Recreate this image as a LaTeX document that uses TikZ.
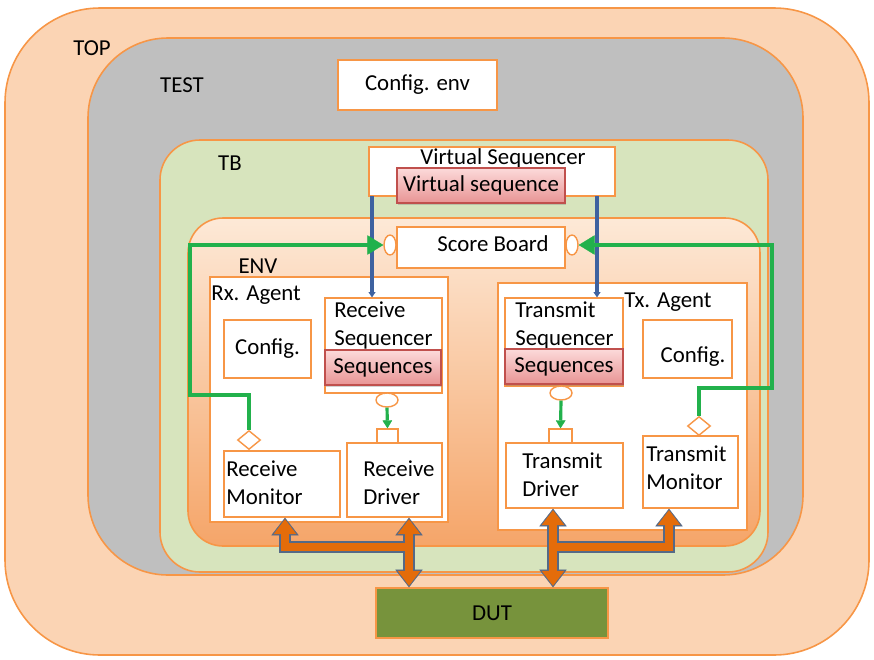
\documentclass[tikz,border=0pt]{standalone}
\usepackage{fontspec}
\setmainfont{Carlito}
\usetikzlibrary{arrows.meta,calc,positioning,shapes.geometric,shadows}
\definecolor{uvmpeach}{RGB}{251,212,180}
\definecolor{uvmorange}{RGB}{247,150,70}
\definecolor{uvmgray}{RGB}{191,191,191}
\definecolor{uvmgreen}{RGB}{215,228,189}
\definecolor{envtop}{RGB}{253,233,215}
\definecolor{envbottom}{RGB}{245,165,105}
\definecolor{seqpinktop}{RGB}{252,218,218}
\definecolor{seqpinkbot}{RGB}{232,148,148}
\definecolor{seqred}{RGB}{192,80,77}
\definecolor{dutgreen}{RGB}{119,147,60}
\definecolor{linkblue}{RGB}{62,98,160}
\definecolor{linkgreen}{RGB}{34,177,76}
\definecolor{busorange}{RGB}{228,108,10}
\definecolor{busedge}{RGB}{85,105,135}

\tikzset{
  txt/.style={inner sep=0pt,font=\fontsize{13}{16}\selectfont,align=left},
  blk/.style={draw=uvmorange,fill=white,line width=0.8pt,inner sep=0pt,font=\fontsize{13}{16}\selectfont},
  seqbox/.style={draw=seqred,line width=0.7pt,top color=seqpinktop,bottom color=seqpinkbot,
    inner sep=0pt,font=\fontsize{13}{16}\selectfont,
    drop shadow={opacity=.35,shadow xshift=.6pt,shadow yshift=-.9pt}},
  port/.style={draw=uvmorange,fill=white,line width=0.8pt,inner sep=0pt},
  seqlink/.style={draw=linkblue,line width=1.8pt,-{Triangle[length=3pt,width=4pt,line width=0.2pt]}},
  monlink/.style={draw=linkgreen,line width=2.8pt,line join=miter,
    -{Triangle[length=9pt,width=11pt,line width=0.2pt]}},
  drvlink/.style={draw=linkgreen,line width=1.8pt,-{Triangle[length=4.5pt,width=5.5pt,line width=0.2pt]}},
  busedge/.style={draw=busedge,line width=6.6pt,line join=miter,
    >={Triangle[length=10pt,width=15.5pt,line width=0.2pt]}},
  buscore/.style={draw=busorange,line width=5pt,line join=miter,shorten >=0.9pt,shorten <=0.9pt,
    >={Triangle[length=8.4pt,width=12.8pt,line width=0.2pt]}}
}

\begin{document}
\begin{tikzpicture}[x=0.02cm,y=-0.02cm]
 \useasboundingbox (0,0) rectangle (874,659);
 % nested environments
 \draw[uvmorange,line width=0.9pt,fill=uvmpeach,rounded corners=1.9cm] (5,8) rectangle (869,655);
 \draw[uvmorange,line width=0.9pt,fill=uvmgray,rounded corners=1.6cm] (88,38) rectangle (803,575);
 \draw[uvmorange,line width=0.9pt,fill=uvmgreen,rounded corners=0.8cm] (160,140) rectangle (768,572);
 \shade[top color=envtop,bottom color=envbottom,rounded corners=0.7cm] (188,218) rectangle (760,546);
 \draw[uvmorange,line width=0.9pt,rounded corners=0.7cm] (188,218) rectangle (760,546);
 \node[txt] (toplbl) at (92,48) {TOP};
 \node[txt] (testlbl) at (182,85) {TEST};
 \node[txt] (tblbl) at (230,163) {TB};
 \node[txt] (envlbl) at (258,266) {ENV};

 \node[blk,minimum width=3.18cm,minimum height=1.0cm] (cfgenv) at (417.5,85) {Config. env};

 % virtual sequencer and scoreboard
 \node[blk,minimum width=4.92cm,minimum height=0.98cm] (vseqr) at (492,171.5) {};
 \node[txt] (vseqrtxt) at (503,158) {Virtual Sequencer};
 \node[seqbox,minimum width=3.36cm,minimum height=0.7cm] (vseq) at (481,185.5) {Virtual sequence};
 \node[blk,minimum width=3.36cm,minimum height=0.82cm] (sb) at (481,247.5) {};
 \node[txt] (sbtxt) at (493,244) {Score Board};
 \node[port,ellipse,minimum width=0.24cm,minimum height=0.4cm] (sbl) at (390,245) {};
 \node[port,ellipse,minimum width=0.24cm,minimum height=0.4cm] (sbr) at (572,245) {};

 % receive agent
 \node[blk,minimum width=4.76cm,minimum height=4.9cm] (rxag) at (329,399.5) {};
 \node[txt,anchor=west] (rxagtxt) at (211,295) {Rx. Agent};
 \node[blk,minimum width=1.74cm,minimum height=1.16cm] (rxcfg) at (267.5,349) {Config.};
 \node[blk,minimum width=2.34cm,minimum height=1.9cm] (rxseqr) at (383.5,345.5) {};
 \node[txt,anchor=north west] (rxseqrtxt) at (334,301) {Receive\\Sequencer};
 \node[seqbox,minimum width=2.32cm,minimum height=0.7cm] (rxseqs) at (383,367.5) {Sequences};
 \node[port,ellipse,minimum width=0.44cm,minimum height=0.28cm] (rxport) at (387,400) {};
 \node[port,minimum width=0.42cm,minimum height=0.28cm] (rxsq) at (387.5,436) {};
 \node[blk,minimum width=1.9cm,minimum height=1.48cm] (rxdrv) at (394.5,480) {};
 \node[txt,anchor=north west] (rxdrvtxt) at (363,460) {Receive\\Driver};
 \node[blk,minimum width=2.32cm,minimum height=1.32cm] (rxmon) at (282,484) {};
 \node[txt,anchor=north west] (rxmontxt) at (226,460) {Receive\\Monitor};
 \node[port,diamond,minimum width=0.46cm,minimum height=0.38cm] (rxmp) at (249,440) {};

 % transmit agent
 \node[blk,minimum width=4.98cm,minimum height=4.94cm] (txag) at (622.5,406.5) {};
 \node[txt] (txagtxt) at (668,302) {Tx. Agent};
 \node[blk,minimum width=2.36cm,minimum height=1.76cm] (txseqr) at (564,342) {};
 \node[txt,anchor=north west] (txseqrtxt) at (515,301) {Transmit\\Sequencer};
 \node[seqbox,minimum width=2.36cm,minimum height=0.7cm] (txseqs) at (564,366.5) {Sequences};
 \node[blk,minimum width=1.78cm,minimum height=1.16cm] (txcfg) at (687.5,349) {};
 \node[txt] (txcfgtxt) at (693,357) {Config.};
 \node[port,ellipse,minimum width=0.44cm,minimum height=0.28cm] (txport) at (561,393) {};
 \node[port,minimum width=0.46cm,minimum height=0.28cm] (txsq) at (560.5,436) {};
 \node[blk,minimum width=2.34cm,minimum height=1.3cm] (txdrv) at (564.5,475.5) {};
 \node[txt,anchor=north west] (txdrvtxt) at (522,452) {Transmit\\Driver};
 \node[blk,minimum width=1.9cm,minimum height=1.44cm] (txmon) at (690.5,472) {};
 \node[txt,anchor=north west] (txmontxt) at (646,445) {Transmit\\Monitor};
 \node[port,diamond,minimum width=0.46cm,minimum height=0.38cm] (txmp) at (699,426) {};

 \node[blk,fill=dutgreen,minimum width=4.64cm,minimum height=1.0cm] (dut) at (492,613) {DUT};

 % sequencer links
 \coordinate (rxtap) at (372,196);
 \coordinate (txtap) at (597,196);
 \draw[seqlink] (rxtap) -- (rxtap |- rxseqr.north);
 \draw[seqlink] (txtap) -- (txtap |- txseqr.north);
 \draw[drvlink] (rxport.south) -- (rxsq.north);
 \draw[drvlink] (txport.south) -- (txsq.north);

 % analysis links to the score board
 \coordinate (rxbend) at (190,395);
 \coordinate (txbend) at (772,388);
 \draw[monlink] (rxmp.north) |- (rxbend) |- (sbl.west);
 \draw[monlink] (txmp.north) |- (txbend) |- (sbr.east);

 % DUT interface
 \coordinate (rxbus) at (409,547);
 \coordinate (rxmonbus) at (285,547);
 \coordinate (txbus) at (553,547);
 \coordinate (txmonbus) at (669,547);
 \foreach \layer in {busedge,buscore}{
   \draw[\layer,->] (rxbus) -- (rxmonbus) -- (rxmonbus |- rxmon.south);
   \draw[\layer,->] (txbus) -- (txmonbus) -- (txmonbus |- txmon.south);
   \draw[\layer,<->] (rxdrv.south -| rxbus) -- (dut.north -| rxbus);
   \draw[\layer,<->] (txdrv.south -| txbus) -- (dut.north -| txbus);
 }
\end{tikzpicture}
\end{document}
